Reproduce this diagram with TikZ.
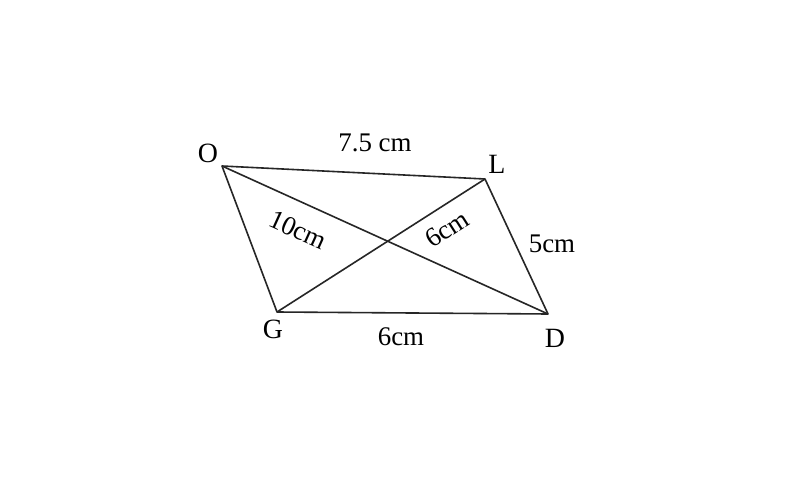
\documentclass[tikz,border=0pt]{standalone}
\usepackage{fontspec}
\setmainfont{Liberation Serif}
\begin{document}
\begin{tikzpicture}[x=1bp,y=-1bp,
  edge/.style={line width=1.6bp,line join=round,black!85},
  vlab/.style={font=\fontsize{28}{32}\selectfont,inner sep=0pt},
  mlab/.style={font=\fontsize{27}{31}\selectfont,inner sep=0pt}]
\useasboundingbox[fill=white] (0,0) rectangle (786,485);
\coordinate (O) at (222,166);
\coordinate (L) at (485,179);
\coordinate (D) at (548,314);
\coordinate (G) at (277,312);
\draw[edge] (O) -- (L) -- (D) -- (G) -- cycle;
\draw[edge] (O) -- (D);
\draw[edge] (G) -- (L);
\node[vlab] (lo) at (208,153) {O};
\node[vlab] (ll) at (497,164) {L};
\node[vlab] (lg) at (273,329) {G};
\node[vlab] (ld) at (555,338) {D};
\node[mlab] (m1) at (375,143) {7.5 cm};
\node[mlab] (m2) at (552,244) {5cm};
\node[mlab] (m3) at (401,337) {6cm};
\node[mlab,rotate=-24.4] (m4) at (298,230) {10cm};
\node[mlab,rotate=32.6] (m5) at (447,229) {6cm};
\end{tikzpicture}
\end{document}
